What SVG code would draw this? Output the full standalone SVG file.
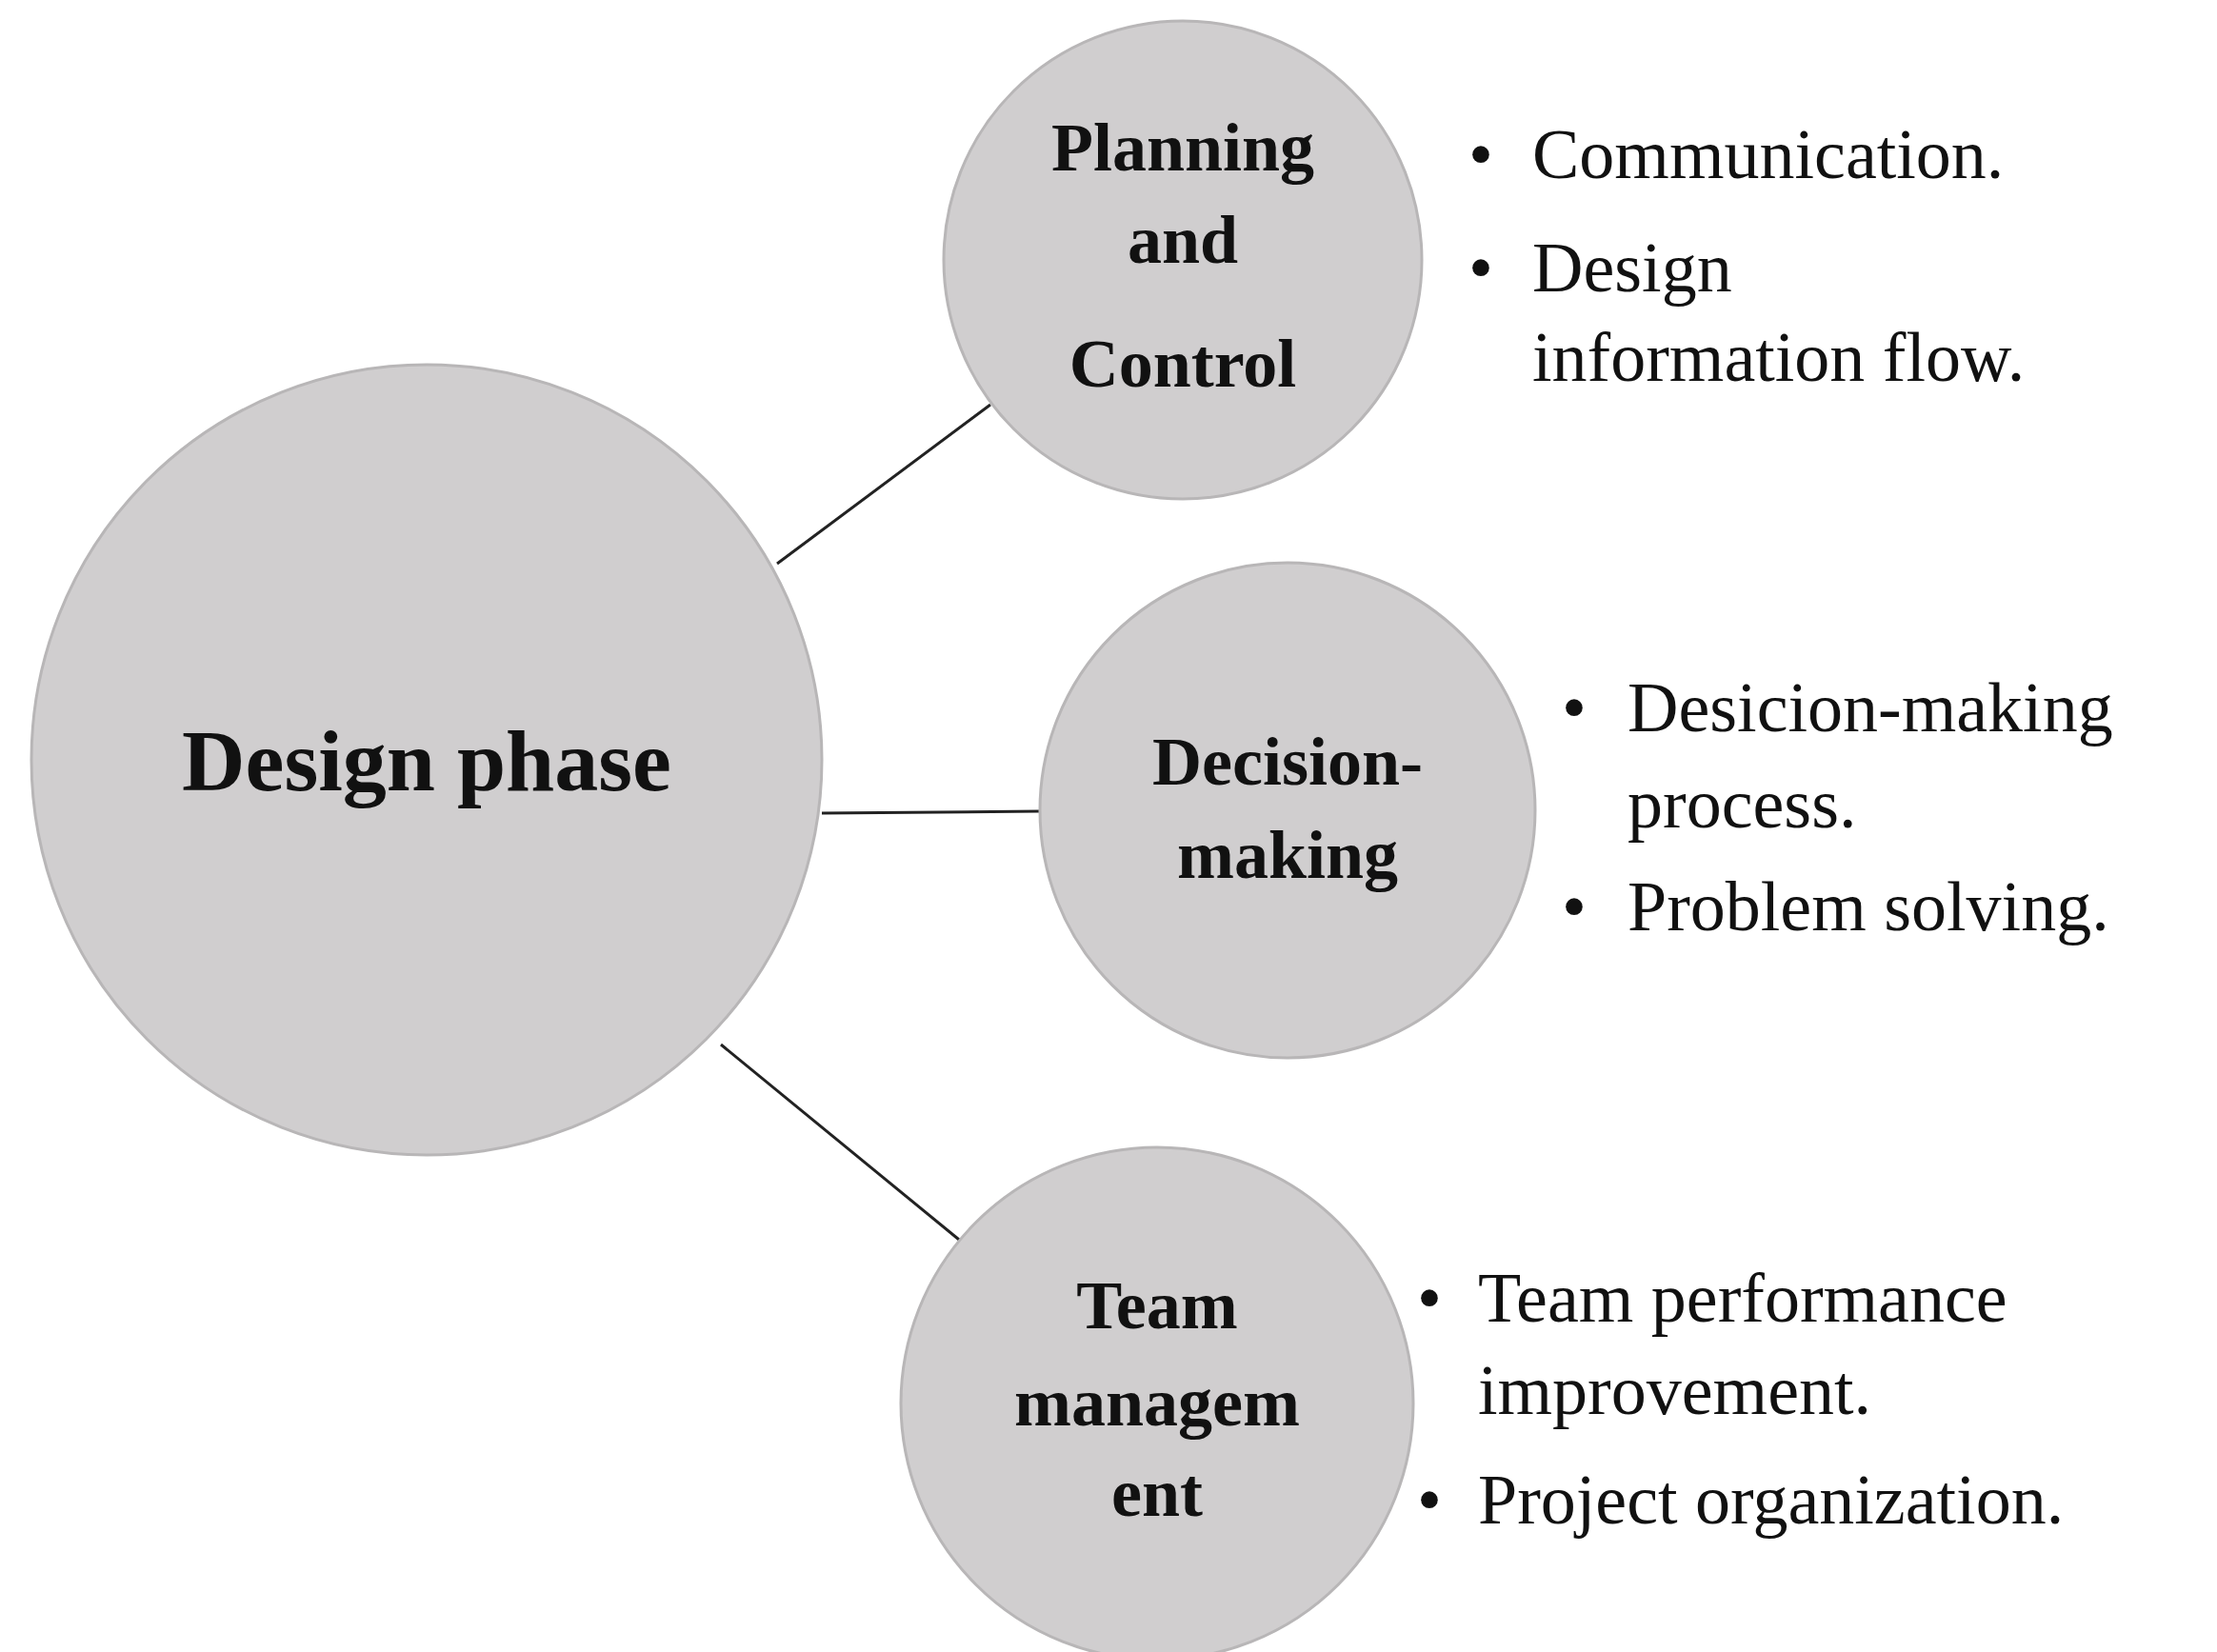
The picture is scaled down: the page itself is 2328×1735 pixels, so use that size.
<svg xmlns="http://www.w3.org/2000/svg" width="2328" height="1735" viewBox="0 0 2328 1735">
<style>
.c{fill:#d0cecf;stroke:#b8b6b7;stroke-width:3}
.h{font-family:"Liberation Serif",serif;font-weight:bold;fill:#111;text-anchor:middle}
.b{font-family:"Liberation Serif",serif;font-size:74px;fill:#111}
</style>
<rect width="2328" height="1735" fill="#fff"/>
<g id="connectors" stroke="#222" stroke-width="3">
<line x1="816" y1="592" x2="1040" y2="425"/>
<line x1="863" y1="854" x2="1092" y2="852"/>
<line x1="757" y1="1097" x2="1012" y2="1306"/>
</g>
<g id="design"><circle class="c" cx="448" cy="798" r="415"/><text class="h" x="448" y="830" font-size="92">Design phase</text></g>
<g id="planning"><circle class="c" cx="1242" cy="273" r="251"/>
<text class="h" font-size="72"><tspan x="1242" y="179">Planning</tspan><tspan x="1242" y="276">and</tspan><tspan x="1242" y="406">Control</tspan></text></g>
<g id="decision"><circle class="c" cx="1352" cy="851" r="260"/>
<text class="h" font-size="72"><tspan x="1352" y="824">Decision-</tspan><tspan x="1352" y="922">making</tspan></text></g>
<g id="team"><circle class="c" cx="1215" cy="1474" r="269"/>
<text class="h" font-size="72"><tspan x="1215" y="1395">Team</tspan><tspan x="1215" y="1497">managem</tspan><tspan x="1215" y="1592">ent</tspan></text></g>
<g id="bullets1" class="b"><text x="1542" y="187">•</text><text x="1609" y="187">Communication.</text><text x="1542" y="306">•</text><text x="1609" y="306">Design</text><text x="1609" y="400">information flow.</text></g>
<g id="bullets2" class="b"><text x="1640" y="768">•</text><text x="1709" y="768">Desicion-making</text><text x="1709" y="869">process.</text><text x="1640" y="977">•</text><text x="1709" y="977">Problem solving.</text></g>
<g id="bullets3" class="b"><text x="1488" y="1388">•</text><text x="1552" y="1388">Team performance</text><text x="1552" y="1485">improvement.</text><text x="1488" y="1600">•</text><text x="1552" y="1600">Project organization.</text></g>
</svg>
